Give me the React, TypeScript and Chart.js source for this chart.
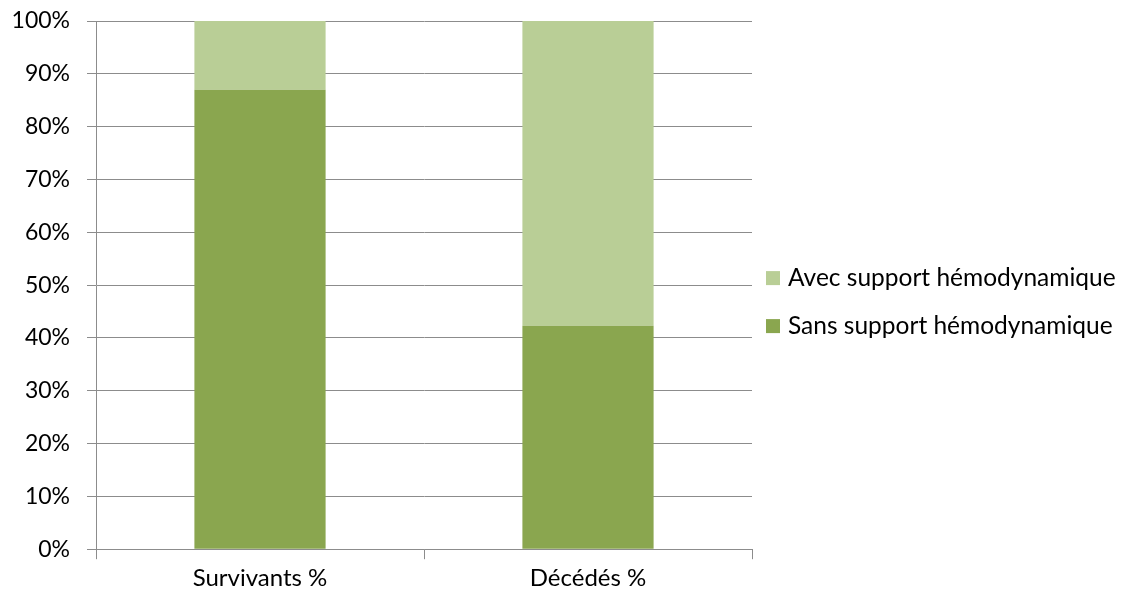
import React, { useEffect, useRef } from "react";
import { Chart, registerables } from "chart.js";

Chart.register(...registerables);

const categories = ["Survivants %", "Décédés %"];
const sansSupport = [87, 42.3];
const avecSupport = [13, 57.7];
const yTicks = [0, 10, 20, 30, 40, 50, 60, 70, 80, 90, 100];

const FONT = "Lato, 'Open Sans', sans-serif";

const sideLegend = {
  id: "sideLegend",
  afterDraw(chart: any) {
    const ctx = chart.ctx;
    const area = chart.chartArea;
    const items = chart.data.datasets.map((d: any) => ({ label: d.label, color: d.backgroundColor })).reverse();
    const gap = 48;
    const midY = (area.top + area.bottom) / 2 + 17;
    const startY = midY - ((items.length - 1) * gap) / 2;
    const boxX = area.right + 14;
    ctx.save();
    ctx.font = `24.5px ${FONT}`;
    ctx.textBaseline = "middle";
    ctx.textAlign = "left";
    items.forEach((it: any, i: number) => {
      const y = startY + i * gap;
      ctx.fillStyle = it.color;
      ctx.fillRect(boxX, y - 7, 14, 14);
      ctx.fillStyle = "#000";
      ctx.fillText(it.label, boxX + 22, y);
    });
    ctx.restore();
  },
};

export default function App() {
  const ref = useRef<HTMLCanvasElement | null>(null);
  useEffect(() => {
    if (!ref.current) return;
    const chart = new Chart(ref.current, {
      type: "bar",
      data: {
        labels: categories,
        datasets: [
          {
            label: "Sans support hémodynamique",
            data: sansSupport,
            backgroundColor: "#8AA64F",
            categoryPercentage: 1,
            barPercentage: 0.4,
          },
          {
            label: "Avec support hémodynamique",
            data: avecSupport,
            backgroundColor: "#B9CE96",
            categoryPercentage: 1,
            barPercentage: 0.4,
          },
        ],
      },
      plugins: [sideLegend],
      options: {
        animation: false,
        responsive: false,
        layout: { padding: { top: 0, right: 367, bottom: 4, left: 0 } },
        plugins: {
          tooltip: { enabled: false },
          legend: { display: false },
        },
        scales: {
          x: {
            stacked: true,
            grid: {
              offset: true,
              drawOnChartArea: false,
              drawTicks: true,
              tickLength: 10,
              color: "#8c8c8c",
            },
            border: { color: "#8c8c8c" },
            ticks: {
              color: "#000",
              padding: 5,
              font: { family: FONT, size: 24 },
            },
          },
          y: {
            stacked: true,
            min: 0,
            max: 100,
            afterFit: (s: any) => {
              s.width = 88;
              s.paddingTop = 13;
              s.paddingBottom = 0;
            },
            afterBuildTicks: (s: any) => {
              s.ticks = yTicks.map((v) => ({ value: v }));
            },
            grid: {
              color: "#8c8c8c",
              tickLength: 9,
            },
            border: { color: "#8c8c8c" },
            ticks: {
              color: "#000",
              padding: 17,
              font: { family: FONT, size: 23 },
              callback: (v: any) => v + "%",
            },
          },
        },
      },
    });
    return () => chart.destroy();
  }, []);
  return (
    <div style={{ width: 1111, height: 594 }}>
      <canvas ref={ref} width={1111} height={594} style={{ display: "block" }} />
    </div>
  );
}
